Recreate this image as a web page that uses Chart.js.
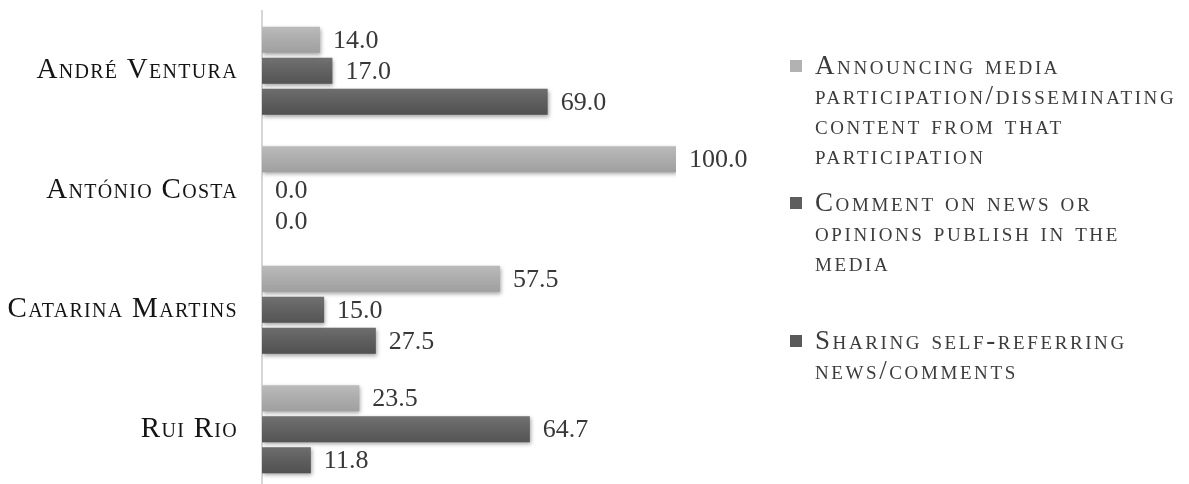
<!DOCTYPE html>
<html>
<head>
<meta charset="utf-8">
<script src="https://cdn.jsdelivr.net/npm/chart.js@4"></script>
<style>
  html, body { margin: 0; padding: 0; background: #fff; overflow: hidden; }
  #wrap { position: relative; width: 1189px; height: 490px; }
</style>
</head>
<body>
<div id="wrap"><canvas id="chart"></canvas></div>
<script>
// data
const categories = ["André Ventura", "António Costa", "Catarina Martins", "Rui Rio"];
const announcing = [14.0, 100.0, 57.5, 23.5];
const commenting = [17.0, 0.0, 15.0, 64.7];
const sharing = [69.0, 0.0, 27.5, 11.8];
const seriesNames = [
  ["Announcing media", "participation/disseminating", "content from that", "participation"],
  ["Comment on news or", "opinions publish in the", "media"],
  ["Sharing self-referring", "news/comments"]
];
const seriesColors = ["#b2b2b2", "#5e5e5e", "#5a5a5a"];

const serif = "'Liberation Serif', 'DejaVu Serif', serif";

// soft shadow under the bars
const barShadow = {
  id: "barShadow",
  beforeDatasetsDraw(chart) {
    const ctx = chart.ctx;
    ctx.save();
    ctx.shadowColor = "rgba(0,0,0,0.35)";
    ctx.shadowBlur = 4;
    ctx.shadowOffsetX = 1;
    ctx.shadowOffsetY = 2;
  },
  afterDatasetsDraw(chart) {
    chart.ctx.restore();
  }
};

// light gradient sheen on each bar + value labels
const barLabels = {
  id: "barLabels",
  afterDatasetsDraw(chart) {
    const ctx = chart.ctx;
    ctx.save();
    chart.data.datasets.forEach((ds, i) => {
      chart.getDatasetMeta(i).data.forEach((bar, j) => {
        const h = bar.height;
        const top = bar.y - h / 2;
        if (bar.x - bar.base > 1) {
          const g = ctx.createLinearGradient(0, top, 0, top + h);
          g.addColorStop(0, "rgba(255,255,255,0.12)");
          g.addColorStop(1, "rgba(0,0,0,0.10)");
          ctx.fillStyle = g;
          ctx.fillRect(bar.base, top, bar.x - bar.base, h);
        }
        ctx.fillStyle = "#383838";
        ctx.font = "26px " + serif;
        ctx.textAlign = "left";
        ctx.textBaseline = "middle";
        ctx.fillText(ds.data[j].toFixed(1), bar.x + 13, bar.y + 1);
      });
    });
    ctx.restore();
  }
};

// category names in small caps, left of the axis
const catLabels = {
  id: "catLabels",
  afterDraw(chart) {
    const ctx = chart.ctx;
    const yScale = chart.scales.y;
    ctx.save();
    ctx.fillStyle = "#141414";
    ctx.font = "small-caps 29px " + serif;
    ctx.letterSpacing = "1.3px";
    ctx.textAlign = "right";
    ctx.textBaseline = "middle";
    categories.forEach((c, i) => {
      ctx.fillText(c, 238, yScale.getPixelForTick(i));
    });
    ctx.restore();
  }
};

// legend on the right with wrapped lines
const sideLegend = {
  id: "sideLegend",
  afterDraw(chart) {
    const ctx = chart.ctx;
    const starts = [67, 204, 342];
    ctx.save();
    seriesNames.forEach((lines, i) => {
      ctx.fillStyle = seriesColors[i];
      ctx.fillRect(790, starts[i] - 7, 12, 12);
      ctx.fillStyle = "#3c3c3c";
      ctx.font = "small-caps 27px " + serif;
      ctx.letterSpacing = "2.6px";
      ctx.textAlign = "left";
      ctx.textBaseline = "middle";
      lines.forEach((line, k) => {
        ctx.fillText(line, 815, starts[i] + k * 30);
      });
    });
    ctx.restore();
  }
};

new Chart(document.getElementById("chart"), {
  type: "bar",
  data: {
    labels: categories,
    datasets: [
      { label: seriesNames[0].join(" "), data: announcing, backgroundColor: seriesColors[0] },
      { label: seriesNames[1].join(" "), data: commenting, backgroundColor: seriesColors[1] },
      { label: seriesNames[2].join(" "), data: sharing, backgroundColor: seriesColors[2] }
    ]
  },
  options: {
    indexAxis: "y",
    responsive: true,
    maintainAspectRatio: false,
    animation: false,
    categoryPercentage: 0.78,
    barPercentage: 0.84,
    layout: { padding: { left: 262, right: 513, top: 11, bottom: 1 } },
    plugins: {
      legend: { display: false },
      tooltip: { enabled: false }
    },
    scales: {
      x: {
        min: 0,
        max: 100,
        display: false
      },
      y: {
        afterFit(scale) { scale.width = 0; },
        ticks: { display: false },
        grid: { display: false },
        border: { display: true, color: "#d6d6d6", width: 2 }
      }
    }
  },
  plugins: [barShadow, barLabels, catLabels, sideLegend]
});
</script>
</body>
</html>
